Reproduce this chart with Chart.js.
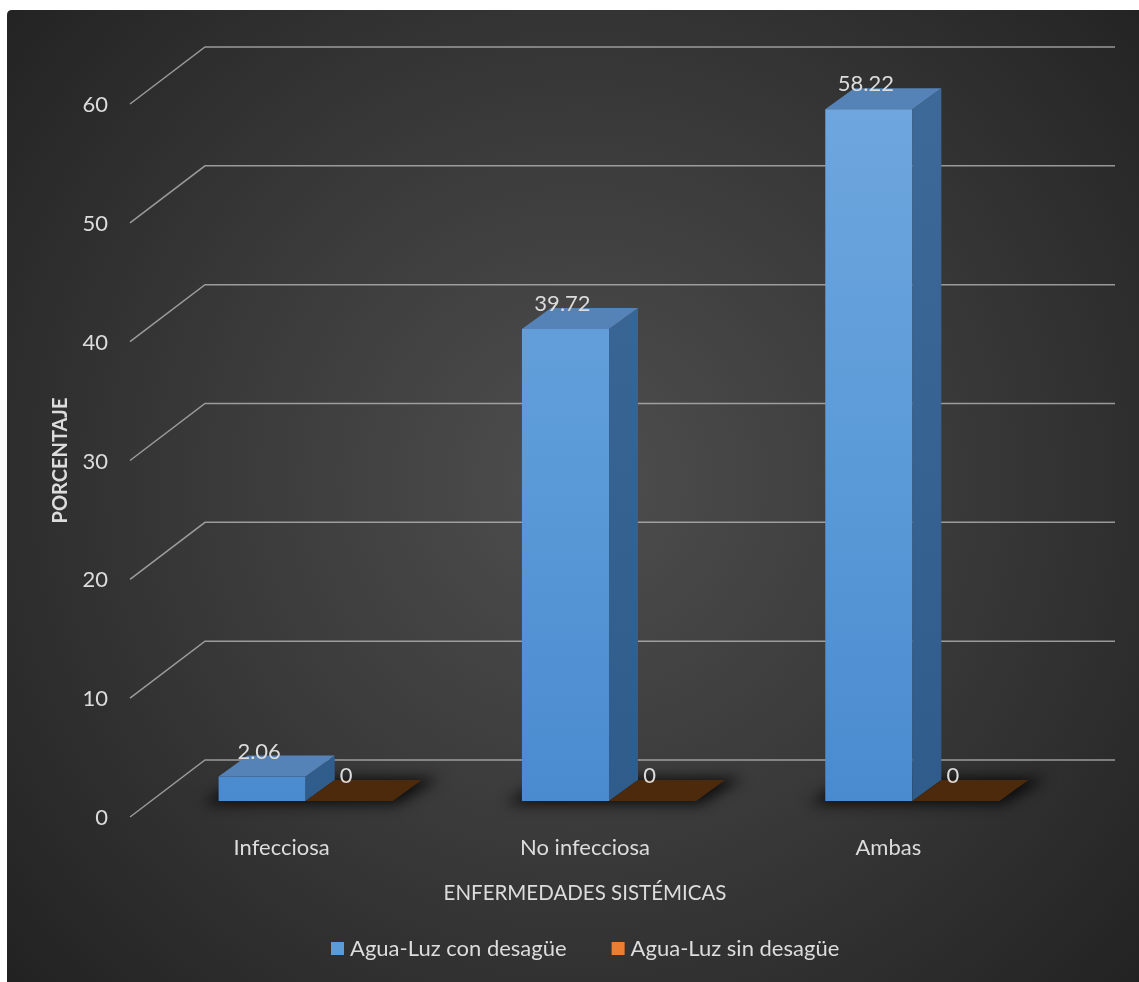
<!DOCTYPE html>
<html><head><meta charset="utf-8">
<script src="https://cdn.jsdelivr.net/npm/chart.js@4.4.1/dist/chart.umd.min.js"></script>
<style>html,body{margin:0;padding:0;background:#fff;overflow:hidden}#wrap{position:absolute;left:0;top:0;width:1139px;height:982px}</style>
</head><body><div id="wrap"><canvas id="c"></canvas></div>
<script>
const categories = ['Infecciosa', 'No infecciosa', 'Ambas'];
const seriesNames = ['Agua-Luz con desagüe', 'Agua-Luz sin desagüe'];
const conDesague = [2.06, 39.72, 58.22];
const sinDesague = [0, 0, 0];
const yTicks = [0, 10, 20, 30, 40, 50, 60];
const yTitle = 'PORCENTAJE';
const xTitle = 'ENFERMEDADES SISTÉMICAS';

const FONT = 'Lato, "Open Sans", sans-serif';
const TXT = '#dcdcdc';
const WALL_DX = 75, WALL_DY = -57;   // back wall offset
const BAR_OX = 24, BAR_OY = -16;     // bar row offset from front plane
const BAR_DX = 29, BAR_DY = -21;     // bar depth

const faces = [
  {frontTop: '#6fa6de', frontMid: '#5b9bd8', frontBot: '#4a8bd0', side: '#3c6997', sideBot: '#2f5c8b', top: '#5583b8'},
  {frontTop: '#f08a45', frontMid: '#ed7d31', frontBot: '#d86c22', side: '#9a4d18', sideBot: '#84410f', top: '#4e2a0d'}
];

const bgPlugin = {
  id: 'bg',
  beforeDraw(chart) {
    const {ctx, width, height} = chart;
    ctx.save();
    ctx.fillStyle = '#ffffff';
    ctx.fillRect(0, 0, width, height);
    const g = ctx.createRadialGradient(580, 480, 0, 580, 480, 760);
    g.addColorStop(0, '#4e4e4e');
    g.addColorStop(0.45, '#3b3b3b');
    g.addColorStop(1, '#222222');
    ctx.fillStyle = g;
    ctx.beginPath();
    ctx.moveTo(12, 10); ctx.lineTo(width, 10); ctx.lineTo(width, height); ctx.lineTo(7, height); ctx.lineTo(7, 15);
    ctx.quadraticCurveTo(7, 10, 12, 10);
    ctx.fill();
    ctx.restore();
  }
};

const wallPlugin = {
  id: 'wall',
  beforeDatasetsDraw(chart) {
    const {ctx, chartArea, scales} = chart;
    const ys = scales.y;
    ctx.save();
    ctx.strokeStyle = 'rgba(190,190,190,0.75)';
    ctx.lineWidth = 1.5;
    ys.ticks.forEach(t => {
      const yf = ys.getPixelForValue(t.value);
      ctx.beginPath();
      ctx.moveTo(chartArea.left, yf);
      ctx.lineTo(chartArea.left + WALL_DX, yf + WALL_DY);
      ctx.lineTo(chartArea.right + WALL_DX, yf + WALL_DY);
      ctx.stroke();
    });
    // tick labels
    ctx.fillStyle = TXT;
    ctx.font = '22px ' + FONT;
    ctx.textAlign = 'right';
    ctx.textBaseline = 'middle';
    ys.ticks.forEach(t => {
      const yf = ys.getPixelForValue(t.value);
      ctx.fillText(String(t.value), chartArea.left - 22, yf + 1);
    });
    // category labels
    const xs = scales.x;
    ctx.textAlign = 'center';
    chart.data.labels.forEach((l, i) => {
      ctx.fillText(l, xs.getPixelForValue(i), chartArea.bottom + 31);
    });
    // axis titles
    ctx.font = '20.5px ' + FONT;
    ctx.fillText(xTitle, (chartArea.left + chartArea.right) / 2, chartArea.bottom + 76);
    ctx.save();
    ctx.translate(61, (chartArea.top + chartArea.bottom) / 2);
    ctx.rotate(-Math.PI / 2);
    ctx.font = 'bold 20px ' + FONT;
    ctx.fillText(yTitle, 0, 0);
    ctx.restore();
    // legend
    ctx.textAlign = 'left';
    ctx.font = '22px ' + FONT;
    const legY = 949;
    let lx = 331;
    chart.data.datasets.forEach((ds, i) => {
      ctx.fillStyle = faces[i].frontMid;
      ctx.fillRect(lx, legY - 7, 13, 13);
      ctx.fillStyle = TXT;
      ctx.fillText(ds.label, lx + 19, legY);
      lx += 19 + ctx.measureText(ds.label).width + 45;
    });
    ctx.restore();
  },
  afterDatasetsDraw(chart) {
    const {ctx} = chart;
    const metas = chart.data.datasets.map((d, i) => chart.getDatasetMeta(i));
    const n = chart.data.labels.length;
    ctx.save();
    // shadows
    for (let i = 0; i < n; i++) {
      const a = metas[0].data[i], b = metas[metas.length - 1].data[i];
      const x0 = a.x - a.width / 2 + BAR_OX, x1 = b.x + b.width / 2 + BAR_OX;
      const yb = a.base + BAR_OY;
      ctx.save();
      ctx.filter = 'blur(7px)';
      ctx.fillStyle = 'rgba(0,0,0,0.8)';
      ctx.beginPath();
      ctx.moveTo(x0 - 16, yb + 3);
      ctx.lineTo(x1 + 4, yb + 3);
      ctx.lineTo(x1 + BAR_DX + 18, yb + BAR_DY - 2);
      ctx.lineTo(x0 + BAR_DX - 6, yb + BAR_DY - 2);
      ctx.closePath();
      ctx.fill();
      ctx.restore();
    }
    // bars
    for (let i = 0; i < n; i++) {
      metas.forEach((m, d) => {
        const el = m.data[i];
        const f = faces[d];
        const x0 = el.x - el.width / 2 + BAR_OX, x1 = el.x + el.width / 2 + BAR_OX;
        const yT = el.y + BAR_OY, yB = el.base + BAR_OY;
        const h = yB - yT;
        if (h > 0.5) {
          const gF = ctx.createLinearGradient(0, 100, 0, 801);
          gF.addColorStop(0, f.frontTop); gF.addColorStop(0.5, f.frontMid); gF.addColorStop(1, f.frontBot);
          ctx.fillStyle = gF;
          ctx.fillRect(x0, yT, x1 - x0, h);
          const gS = ctx.createLinearGradient(0, 100, 0, 801);
          gS.addColorStop(0, f.side); gS.addColorStop(1, f.sideBot);
          ctx.fillStyle = gS;
          ctx.beginPath();
          ctx.moveTo(x1, yT); ctx.lineTo(x1 + BAR_DX, yT + BAR_DY);
          ctx.lineTo(x1 + BAR_DX, yB + BAR_DY); ctx.lineTo(x1, yB);
          ctx.closePath(); ctx.fill();
        }
        ctx.fillStyle = f.top;
        ctx.beginPath();
        ctx.moveTo(x0, yT); ctx.lineTo(x1, yT);
        ctx.lineTo(x1 + BAR_DX, yT + BAR_DY); ctx.lineTo(x0 + BAR_DX, yT + BAR_DY);
        ctx.closePath(); ctx.fill();
      });
    }
    // value labels
    ctx.fillStyle = TXT;
    ctx.font = '22px ' + FONT;
    ctx.textAlign = 'center';
    ctx.textBaseline = 'alphabetic';
    metas.forEach((m, d) => {
      m.data.forEach((el, i) => {
        const v = chart.data.datasets[d].data[i];
        ctx.fillText(String(v), el.x + BAR_OX - 3, el.y + BAR_OY - 18);
      });
    });
    ctx.restore();
  }
};

new Chart(document.getElementById('c'), {
  type: 'bar',
  data: {
    labels: categories,
    datasets: [
      {label: seriesNames[0], data: conDesague, backgroundColor: 'rgba(0,0,0,0)'},
      {label: seriesNames[1], data: sinDesague, backgroundColor: 'rgba(0,0,0,0)'}
    ]
  },
  options: {
    responsive: true,
    maintainAspectRatio: false,
    animation: false,
    devicePixelRatio: 1,
    layout: {padding: {left: 130, right: 99, top: 104, bottom: 165}},
    datasets: {bar: {categoryPercentage: 0.574, barPercentage: 1}},
    scales: {
      x: {display: false, offset: true},
      y: {display: false, min: 0, max: 60, ticks: {stepSize: 10}}
    },
    plugins: {legend: {display: false}, tooltip: {enabled: false}}
  },
  plugins: [bgPlugin, wallPlugin]
});
</script>
</body></html>
